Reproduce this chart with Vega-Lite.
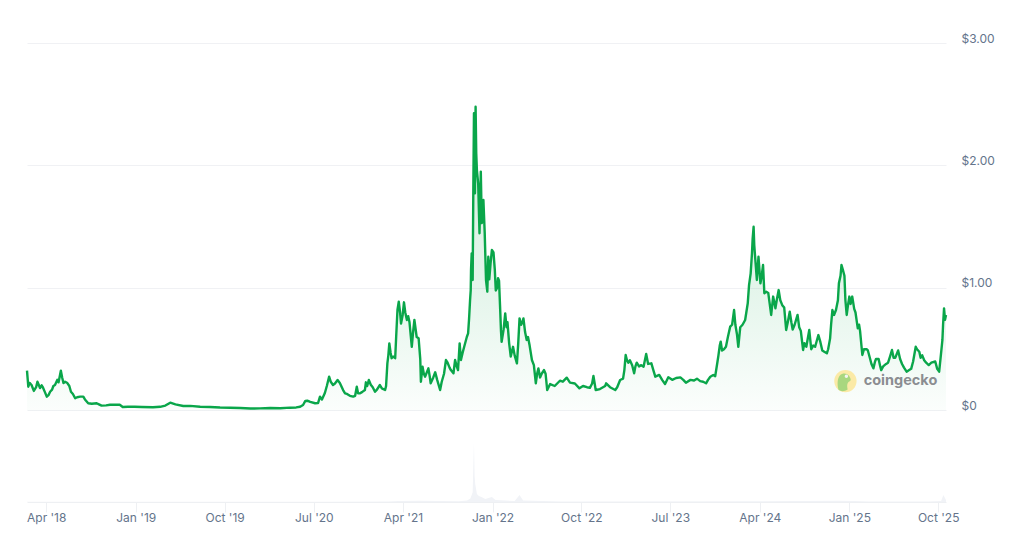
{
  "$schema": "https://vega.github.io/schema/vega-lite/v6.json",
  "width": 919,
  "height": 459,
  "autosize": {"type": "none"},
  "padding": {"left": 27, "top": 43, "right": 78, "bottom": 38},
  "background": "white",
  "config": {"view": {"stroke": null}, "font": "Inter"},
  "datasets": {
    "prices": [
      {"date":"2018-02-01","price":0.325},{"date":"2018-02-05","price":0.194},{"date":"2018-02-09","price":0.225},{"date":"2018-02-15","price":0.208},{"date":"2018-02-22","price":0.16},{"date":"2018-03-01","price":0.19},{"date":"2018-03-05","price":0.235},{"date":"2018-03-09","price":0.21},{"date":"2018-03-13","price":0.183},{"date":"2018-03-18","price":0.205},{"date":"2018-03-22","price":0.188},{"date":"2018-03-28","price":0.15},{"date":"2018-04-03","price":0.113},{"date":"2018-04-08","price":0.125},{"date":"2018-04-13","price":0.153},{"date":"2018-04-19","price":0.17},{"date":"2018-04-23","price":0.2},{"date":"2018-04-28","price":0.208},{"date":"2018-05-05","price":0.25},{"date":"2018-05-09","price":0.23},{"date":"2018-05-16","price":0.325},{"date":"2018-05-20","price":0.27},{"date":"2018-05-24","price":0.224},{"date":"2018-05-29","price":0.235},{"date":"2018-06-05","price":0.224},{"date":"2018-06-11","price":0.2},{"date":"2018-06-16","price":0.153},{"date":"2018-06-22","price":0.135},{"date":"2018-06-29","price":0.1},{"date":"2018-07-05","price":0.108},{"date":"2018-07-14","price":0.113},{"date":"2018-07-24","price":0.113},{"date":"2018-07-29","price":0.09},{"date":"2018-08-08","price":0.059},{"date":"2018-08-19","price":0.055},{"date":"2018-09-03","price":0.059},{"date":"2018-09-10","price":0.05},{"date":"2018-09-18","price":0.04},{"date":"2018-10-02","price":0.042},{"date":"2018-10-14","price":0.047},{"date":"2018-10-29","price":0.048},{"date":"2018-11-13","price":0.047},{"date":"2018-11-22","price":0.029},{"date":"2018-12-08","price":0.03},{"date":"2018-12-29","price":0.03},
      {"date":"2019-01-20","price":0.028},{"date":"2019-02-23","price":0.026},{"date":"2019-03-17","price":0.03},{"date":"2019-04-02","price":0.04},{"date":"2019-04-17","price":0.064},{"date":"2019-05-03","price":0.05},{"date":"2019-05-27","price":0.037},{"date":"2019-06-17","price":0.038},{"date":"2019-07-18","price":0.031},{"date":"2019-08-17","price":0.028},{"date":"2019-09-17","price":0.024},{"date":"2019-10-18","price":0.022},{"date":"2019-11-18","price":0.02},{"date":"2019-12-19","price":0.016},
      {"date":"2020-01-18","price":0.017},{"date":"2020-02-18","price":0.02},{"date":"2020-03-20","price":0.018},{"date":"2020-04-19","price":0.023},{"date":"2020-05-08","price":0.025},{"date":"2020-05-20","price":0.031},{"date":"2020-05-29","price":0.045},{"date":"2020-06-05","price":0.078},{"date":"2020-06-11","price":0.08},{"date":"2020-06-20","price":0.07},{"date":"2020-07-05","price":0.059},{"date":"2020-07-14","price":0.06},{"date":"2020-07-20","price":0.113},{"date":"2020-07-26","price":0.09},{"date":"2020-08-04","price":0.143},{"date":"2020-08-10","price":0.2},{"date":"2020-08-17","price":0.276},{"date":"2020-08-22","price":0.235},{"date":"2020-08-29","price":0.208},{"date":"2020-09-04","price":0.22},{"date":"2020-09-12","price":0.249},{"date":"2020-09-19","price":0.225},{"date":"2020-09-29","price":0.167},{"date":"2020-10-05","price":0.14},{"date":"2020-10-11","price":0.135},{"date":"2020-10-20","price":0.12},{"date":"2020-10-30","price":0.113},{"date":"2020-11-05","price":0.12},{"date":"2020-11-10","price":0.194},{"date":"2020-11-14","price":0.14},{"date":"2020-11-20","price":0.14},{"date":"2020-11-26","price":0.15},{"date":"2020-12-05","price":0.167},{"date":"2020-12-08","price":0.23},{"date":"2020-12-12","price":0.2},{"date":"2020-12-17","price":0.249},{"date":"2020-12-23","price":0.21},{"date":"2020-12-29","price":0.19},
      {"date":"2021-01-05","price":0.153},{"date":"2021-01-11","price":0.17},{"date":"2021-01-20","price":0.208},{"date":"2021-01-26","price":0.18},{"date":"2021-02-05","price":0.167},{"date":"2021-02-08","price":0.2},{"date":"2021-02-12","price":0.385},{"date":"2021-02-15","price":0.45},{"date":"2021-02-18","price":0.548},{"date":"2021-02-22","price":0.47},{"date":"2021-02-25","price":0.427},{"date":"2021-03-02","price":0.44},{"date":"2021-03-08","price":0.427},{"date":"2021-03-11","price":0.6},{"date":"2021-03-15","price":0.82},{"date":"2021-03-19","price":0.888},{"date":"2021-03-23","price":0.8},{"date":"2021-03-26","price":0.71},{"date":"2021-03-31","price":0.78},{"date":"2021-04-04","price":0.883},{"date":"2021-04-08","price":0.8},{"date":"2021-04-13","price":0.739},{"date":"2021-04-17","price":0.77},{"date":"2021-04-21","price":0.72},{"date":"2021-04-28","price":0.52},{"date":"2021-05-02","price":0.64},{"date":"2021-05-06","price":0.739},{"date":"2021-05-10","price":0.66},{"date":"2021-05-13","price":0.6},{"date":"2021-05-19","price":0.59},{"date":"2021-05-24","price":0.42},{"date":"2021-05-26","price":0.235},{"date":"2021-05-31","price":0.357},{"date":"2021-06-04","price":0.3},{"date":"2021-06-08","price":0.276},{"date":"2021-06-13","price":0.31},{"date":"2021-06-18","price":0.344},{"date":"2021-06-22","price":0.28},{"date":"2021-06-25","price":0.222},{"date":"2021-07-03","price":0.27},{"date":"2021-07-09","price":0.312},{"date":"2021-07-15","price":0.25},{"date":"2021-07-24","price":0.167},{"date":"2021-07-29","price":0.235},{"date":"2021-08-05","price":0.3},{"date":"2021-08-11","price":0.412},{"date":"2021-08-16","price":0.39},{"date":"2021-08-22","price":0.35},{"date":"2021-08-26","price":0.33},{"date":"2021-09-03","price":0.304},{"date":"2021-09-08","price":0.412},{"date":"2021-09-13","price":0.36},{"date":"2021-09-17","price":0.33},{"date":"2021-09-22","price":0.548},{"date":"2021-09-26","price":0.412},{"date":"2021-10-01","price":0.47},{"date":"2021-10-06","price":0.52},{"date":"2021-10-14","price":0.6},{"date":"2021-10-18","price":0.63},{"date":"2021-10-21","price":0.75},{"date":"2021-10-24","price":0.9},{"date":"2021-10-26","price":0.98},{"date":"2021-10-27","price":1.15},{"date":"2021-10-29","price":1.283},{"date":"2021-11-01","price":1.065},{"date":"2021-11-03","price":1.8},{"date":"2021-11-05","price":2.426},{"date":"2021-11-08","price":1.773},{"date":"2021-11-10","price":2.48},{"date":"2021-11-12","price":2.1},{"date":"2021-11-14","price":1.963},{"date":"2021-11-18","price":1.85},{"date":"2021-11-22","price":1.447},{"date":"2021-11-26","price":1.95},{"date":"2021-11-29","price":1.53},{"date":"2021-12-02","price":1.6},{"date":"2021-12-04","price":1.718},{"date":"2021-12-08","price":1.45},{"date":"2021-12-12","price":1.065},{"date":"2021-12-16","price":0.97},{"date":"2021-12-19","price":1.255},{"date":"2021-12-22","price":1.07},{"date":"2021-12-26","price":1.2},{"date":"2021-12-30","price":1.31},
      {"date":"2022-01-04","price":1.29},{"date":"2022-01-08","price":1.15},{"date":"2022-01-11","price":0.98},{"date":"2022-01-15","price":1.0},{"date":"2022-01-18","price":1.08},{"date":"2022-01-21","price":1.06},{"date":"2022-01-24","price":0.86},{"date":"2022-01-27","price":0.65},{"date":"2022-01-29","price":0.56},{"date":"2022-02-04","price":0.66},{"date":"2022-02-09","price":0.793},{"date":"2022-02-13","price":0.68},{"date":"2022-02-16","price":0.72},{"date":"2022-02-21","price":0.55},{"date":"2022-02-26","price":0.44},{"date":"2022-03-05","price":0.52},{"date":"2022-03-10","price":0.45},{"date":"2022-03-17","price":0.385},{"date":"2022-03-21","price":0.55},{"date":"2022-03-25","price":0.752},{"date":"2022-03-30","price":0.7},{"date":"2022-04-03","price":0.72},{"date":"2022-04-06","price":0.752},{"date":"2022-04-11","price":0.64},{"date":"2022-04-16","price":0.576},{"date":"2022-04-20","price":0.6},{"date":"2022-04-25","price":0.53},{"date":"2022-05-02","price":0.412},{"date":"2022-05-08","price":0.37},{"date":"2022-05-14","price":0.222},{"date":"2022-05-18","price":0.3},{"date":"2022-05-22","price":0.344},{"date":"2022-05-27","price":0.27},{"date":"2022-06-01","price":0.3},{"date":"2022-06-08","price":0.33},{"date":"2022-06-13","price":0.3},{"date":"2022-06-18","price":0.167},{"date":"2022-06-27","price":0.216},{"date":"2022-07-11","price":0.2},{"date":"2022-07-27","price":0.243},{"date":"2022-08-05","price":0.235},{"date":"2022-08-17","price":0.268},{"date":"2022-08-27","price":0.227},{"date":"2022-09-11","price":0.22},{"date":"2022-09-25","price":0.181},{"date":"2022-10-06","price":0.2},{"date":"2022-10-18","price":0.19},{"date":"2022-10-27","price":0.185},{"date":"2022-11-03","price":0.22},{"date":"2022-11-07","price":0.282},{"date":"2022-11-12","price":0.2},{"date":"2022-11-14","price":0.167},{"date":"2022-11-27","price":0.175},{"date":"2022-12-13","price":0.2},{"date":"2022-12-16","price":0.222},{"date":"2022-12-28","price":0.19},
      {"date":"2023-01-13","price":0.167},{"date":"2023-01-19","price":0.19},{"date":"2023-01-28","price":0.249},{"date":"2023-02-06","price":0.26},{"date":"2023-02-10","price":0.33},{"date":"2023-02-14","price":0.453},{"date":"2023-02-18","price":0.41},{"date":"2023-02-22","price":0.39},{"date":"2023-02-27","price":0.41},{"date":"2023-03-06","price":0.37},{"date":"2023-03-12","price":0.304},{"date":"2023-03-16","price":0.36},{"date":"2023-03-20","price":0.39},{"date":"2023-03-27","price":0.36},{"date":"2023-04-03","price":0.37},{"date":"2023-04-10","price":0.358},{"date":"2023-04-18","price":0.461},{"date":"2023-04-24","price":0.38},{"date":"2023-05-04","price":0.385},{"date":"2023-05-10","price":0.33},{"date":"2023-05-16","price":0.276},{"date":"2023-05-28","price":0.29},{"date":"2023-06-06","price":0.25},{"date":"2023-06-15","price":0.216},{"date":"2023-06-25","price":0.271},{"date":"2023-07-07","price":0.25},{"date":"2023-07-19","price":0.265},{"date":"2023-08-01","price":0.27},{"date":"2023-08-10","price":0.25},{"date":"2023-08-18","price":0.227},{"date":"2023-09-01","price":0.25},{"date":"2023-09-12","price":0.245},{"date":"2023-09-21","price":0.26},{"date":"2023-10-01","price":0.24},{"date":"2023-10-10","price":0.235},{"date":"2023-10-19","price":0.222},{"date":"2023-10-25","price":0.25},{"date":"2023-11-01","price":0.276},{"date":"2023-11-10","price":0.29},{"date":"2023-11-16","price":0.28},{"date":"2023-11-23","price":0.398},{"date":"2023-11-26","price":0.45},{"date":"2023-11-30","price":0.53},{"date":"2023-12-03","price":0.562},{"date":"2023-12-07","price":0.49},{"date":"2023-12-13","price":0.5},{"date":"2023-12-19","price":0.52},{"date":"2023-12-25","price":0.6},
      {"date":"2024-01-01","price":0.684},{"date":"2024-01-07","price":0.7},{"date":"2024-01-13","price":0.82},{"date":"2024-01-17","price":0.7},{"date":"2024-01-22","price":0.62},{"date":"2024-01-26","price":0.52},{"date":"2024-02-01","price":0.68},{"date":"2024-02-08","price":0.7},{"date":"2024-02-16","price":0.739},{"date":"2024-02-24","price":0.875},{"date":"2024-02-28","price":1.024},{"date":"2024-03-04","price":1.12},{"date":"2024-03-08","price":1.283},{"date":"2024-03-10","price":1.4},{"date":"2024-03-13","price":1.5},{"date":"2024-03-15","price":1.35},{"date":"2024-03-18","price":1.242},{"date":"2024-03-23","price":1.065},{"date":"2024-03-28","price":1.255},{"date":"2024-04-03","price":1.038},{"date":"2024-04-07","price":1.1},{"date":"2024-04-11","price":1.188},{"date":"2024-04-15","price":0.957},{"date":"2024-04-21","price":0.97},{"date":"2024-04-27","price":0.96},{"date":"2024-05-06","price":0.78},{"date":"2024-05-12","price":0.93},{"date":"2024-05-19","price":0.834},{"date":"2024-05-23","price":0.9},{"date":"2024-05-29","price":0.983},{"date":"2024-06-03","price":0.9},{"date":"2024-06-09","price":0.86},{"date":"2024-06-15","price":0.84},{"date":"2024-06-21","price":0.657},{"date":"2024-06-26","price":0.72},{"date":"2024-07-02","price":0.806},{"date":"2024-07-07","price":0.72},{"date":"2024-07-11","price":0.66},{"date":"2024-07-17","price":0.7},{"date":"2024-07-26","price":0.78},{"date":"2024-07-31","price":0.68},{"date":"2024-08-05","price":0.65},{"date":"2024-08-12","price":0.494},{"date":"2024-08-16","price":0.55},{"date":"2024-08-22","price":0.52},{"date":"2024-08-31","price":0.657},{"date":"2024-09-06","price":0.5},{"date":"2024-09-12","price":0.53},{"date":"2024-09-18","price":0.52},{"date":"2024-09-28","price":0.616},{"date":"2024-10-04","price":0.56},{"date":"2024-10-10","price":0.49},{"date":"2024-10-16","price":0.48},{"date":"2024-10-24","price":0.467},{"date":"2024-10-28","price":0.5},{"date":"2024-11-03","price":0.589},{"date":"2024-11-06","price":0.7},{"date":"2024-11-10","price":0.82},{"date":"2024-11-15","price":0.78},{"date":"2024-11-21","price":0.82},{"date":"2024-11-27","price":0.9},{"date":"2024-11-30","price":1.038},{"date":"2024-12-05","price":1.1},{"date":"2024-12-08","price":1.188},{"date":"2024-12-12","price":1.15},{"date":"2024-12-17","price":1.1},{"date":"2024-12-20","price":0.9},{"date":"2024-12-24","price":0.78},{"date":"2024-12-28","price":0.86},
      {"date":"2025-01-01","price":0.93},{"date":"2025-01-05","price":0.87},{"date":"2025-01-10","price":0.93},{"date":"2025-01-16","price":0.83},{"date":"2025-01-20","price":0.8},{"date":"2025-01-27","price":0.671},{"date":"2025-01-31","price":0.7},{"date":"2025-02-03","price":0.65},{"date":"2025-02-10","price":0.453},{"date":"2025-02-15","price":0.5},{"date":"2025-02-23","price":0.5},{"date":"2025-02-27","price":0.49},{"date":"2025-03-06","price":0.42},{"date":"2025-03-10","price":0.38},{"date":"2025-03-16","price":0.344},{"date":"2025-03-21","price":0.4},{"date":"2025-03-24","price":0.42},{"date":"2025-04-01","price":0.42},{"date":"2025-04-06","price":0.36},{"date":"2025-04-09","price":0.33},{"date":"2025-04-15","price":0.36},{"date":"2025-04-24","price":0.38},{"date":"2025-04-30","price":0.39},{"date":"2025-05-06","price":0.44},{"date":"2025-05-12","price":0.494},{"date":"2025-05-17","price":0.43},{"date":"2025-05-22","price":0.43},{"date":"2025-05-28","price":0.47},{"date":"2025-05-31","price":0.49},{"date":"2025-06-06","price":0.42},{"date":"2025-06-12","price":0.38},{"date":"2025-06-18","price":0.35},{"date":"2025-06-26","price":0.317},{"date":"2025-07-04","price":0.33},{"date":"2025-07-10","price":0.34},{"date":"2025-07-16","price":0.4},{"date":"2025-07-24","price":0.52},{"date":"2025-07-28","price":0.5},{"date":"2025-08-04","price":0.48},{"date":"2025-08-08","price":0.43},{"date":"2025-08-13","price":0.45},{"date":"2025-08-19","price":0.41},{"date":"2025-08-25","price":0.39},{"date":"2025-09-02","price":0.371},{"date":"2025-09-10","price":0.39},{"date":"2025-09-22","price":0.4},{"date":"2025-09-28","price":0.34},{"date":"2025-10-04","price":0.317},{"date":"2025-10-08","price":0.42},{"date":"2025-10-14","price":0.576},{"date":"2025-10-16","price":0.7},{"date":"2025-10-19","price":0.834},{"date":"2025-10-22","price":0.74},{"date":"2025-10-25","price":0.78}
    ],
    "volumes": [
      {"date":"2018-02-01","vol":0.03},{"date":"2020-08-20","vol":0.03},{"date":"2021-02-15","vol":0.06},{"date":"2021-03-20","vol":0.1},{"date":"2021-05-20","vol":0.12},{"date":"2021-09-20","vol":0.08},{"date":"2021-10-15","vol":0.15},{"date":"2021-10-25","vol":0.35},{"date":"2021-11-01","vol":1.0},{"date":"2021-11-03","vol":3.5},{"date":"2021-11-05","vol":6.0},{"date":"2021-11-07","vol":2.6},{"date":"2021-11-09","vol":1.8},{"date":"2021-11-14","vol":0.8},{"date":"2021-11-20","vol":0.6},{"date":"2021-11-28","vol":0.5},{"date":"2021-12-10","vol":0.3},{"date":"2021-12-30","vol":0.5},{"date":"2022-01-10","vol":0.2},{"date":"2022-03-10","vol":0.1},{"date":"2022-03-25","vol":0.7},{"date":"2022-04-05","vol":0.15},{"date":"2022-08-01","vol":0.05},{"date":"2024-03-15","vol":0.08},{"date":"2024-11-30","vol":0.12},{"date":"2025-01-15","vol":0.1},{"date":"2025-03-01","vol":0.06},{"date":"2025-09-01","vol":0.06},{"date":"2025-10-10","vol":0.1},{"date":"2025-10-17","vol":0.7},{"date":"2025-10-25","vol":0.2}
    ],
    "mark": [{"date":"2024-12-20","price":0.24,"textDate":"2025-02-14","label":"coingecko","eyeDate":"2024-12-23","eyePrice":0.28}]
  },
  "data": {"name": "prices"},
  "resolve": {"scale": {"y": "independent"}},
  "layer": [
    {
      "data": {"name": "volumes"},
      "mark": {"type": "area", "color": "#f1f3f7"},
      "encoding": {
        "x": {
          "field": "date",
          "type": "temporal",
          "scale": {"domain": ["2018-02-01", "2025-10-25"]},
          "title": null,
          "axis": {
            "values": ["2018-04-01","2019-01-01","2019-10-01","2020-07-01","2021-04-01","2022-01-01","2022-10-01","2023-07-01","2024-04-01","2025-01-01","2025-10-01"],
            "format": "%b '%y",
            "labelFontSize": 12,
            "labelColor": "#64748b",
            "labelPadding": 0,
            "labelFont": "Inter",
            "tickSize": 10,
            "tickColor": "#eef0f3",
            "domainColor": "#eef0f3",
            "grid": false,
            "labelOverlap": false,
            "labelFlush": false
          }
        },
        "y": {
          "field": "vol",
          "type": "quantitative",
          "scale": {"domain": [0, 8], "range": [459, 380]},
          "axis": null
        }
      }
    },
    {
      "mark": {
        "type": "area",
        "color": {
          "gradient": "linear",
          "x1": 0, "y1": 0, "x2": 0, "y2": 1,
          "stops": [
            {"offset": 0, "color": "rgba(10,166,74,0.18)"},
            {"offset": 0.6, "color": "rgba(10,166,74,0.11)"},
            {"offset": 1, "color": "rgba(10,166,74,0.015)"}
          ]
        }
      },
      "encoding": {
        "x": {"field": "date", "type": "temporal"},
        "y": {
          "field": "price",
          "type": "quantitative",
          "scale": {"domain": [-0.747, 3]},
          "title": null,
          "axis": {
            "orient": "right",
            "values": [0, 1, 2, 3],
            "labelExpr": "datum.value == 0 ? '$0' : '$' + format(datum.value, '.2f')",
            "labelFontSize": 12,
            "labelColor": "#64748b",
            "labelFont": "Inter",
            "labelPadding": 15,
            "labelOffset": -5,
            "ticks": false,
            "domain": false,
            "grid": true,
            "gridColor": "#f0f1f4",
            "gridWidth": 1
          }
        },
        "y2": {"datum": 0}
      }
    },
    {
      "mark": {"type": "line", "color": "#0aa64a", "strokeWidth": 2.4, "strokeJoin": "round"},
      "encoding": {
        "x": {"field": "date", "type": "temporal"},
        "y": {"field": "price", "type": "quantitative", "scale": {"domain": [-0.747, 3]}, "axis": null}
      }
    },
    {
      "data": {"name": "mark"},
      "mark": {"type": "point", "filled": true, "size": 500, "color": "#fbeaa6", "opacity": 1},
      "encoding": {
        "x": {"field": "date", "type": "temporal"},
        "y": {"field": "price", "type": "quantitative", "scale": {"domain": [-0.747, 3]}, "axis": null}
      }
    },
    {
      "data": {"name": "mark"},
      "mark": {
        "type": "point",
        "filled": true,
        "size": 500,
        "color": "#a9d77f",
        "opacity": 1,
        "shape": "M-0.62,0.78 C-0.75,0.3 -0.72,-0.25 -0.5,-0.5 C-0.25,-0.75 0.12,-0.72 0.3,-0.5 C0.42,-0.35 0.55,-0.1 0.42,0 C0.2,0.1 0.1,0.3 0.2,0.75 C-0.1,0.95 -0.4,0.95 -0.62,0.78 Z"
      },
      "encoding": {
        "x": {"field": "date", "type": "temporal"},
        "y": {"field": "price", "type": "quantitative", "scale": {"domain": [-0.747, 3]}, "axis": null}
      }
    },
    {
      "data": {"name": "mark"},
      "mark": {"type": "point", "filled": true, "size": 12, "color": "#f4f4f0", "opacity": 1},
      "encoding": {
        "x": {"field": "eyeDate", "type": "temporal"},
        "y": {"field": "eyePrice", "type": "quantitative", "scale": {"domain": [-0.747, 3]}, "axis": null}
      }
    },
    {
      "data": {"name": "mark"},
      "mark": {"type": "text", "align": "left", "baseline": "middle", "fontSize": 14.5, "fontWeight": "bold", "font": "Inter", "color": "#8b8d91"},
      "encoding": {
        "x": {"field": "textDate", "type": "temporal"},
        "y": {"field": "price", "type": "quantitative", "scale": {"domain": [-0.747, 3]}, "axis": null},
        "text": {"field": "label"}
      }
    }
  ]
}
